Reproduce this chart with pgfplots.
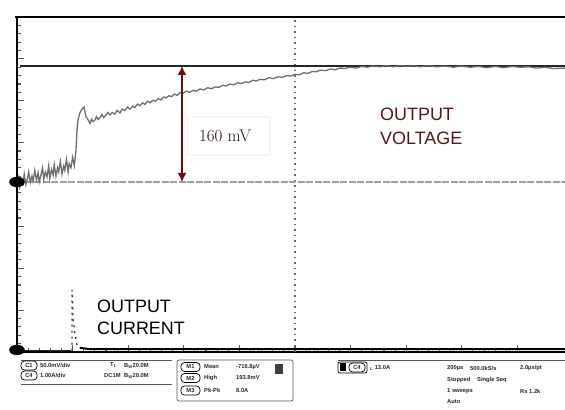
\documentclass[border=0pt]{standalone}
\usepackage{fontspec}
\usepackage{pgfplots}
\pgfplotsset{compat=1.18}
\usetikzlibrary{arrows.meta}
\newfontfamily\arial{Liberation Sans}
\definecolor{maroon}{RGB}{110,12,12}
\definecolor{vtxt}{RGB}{85,22,22}
\definecolor{mvtxt}{RGB}{40,18,18}
\definecolor{boxc}{RGB}{254,242,236}
\definecolor{trace}{RGB}{110,110,110}
\begin{document}
\begin{tikzpicture}
\path[use as bounding box] (0,0) rectangle (565bp,410bp);
\begin{axis}[at={(17bp,58bp)}, anchor=south west, scale only axis,
  width=548bp, height=335bp, xmin=0, xmax=9.856, ymin=-4, ymax=4,
  axis x line=bottom, axis y line=left,
  axis line style={line width=2.4bp, -, black},
  xtick={0,...,9}, ytick={-4,...,4}, minor x tick num=4, minor y tick num=4,
  xticklabels={}, yticklabels={}, tick align=inside,
  major tick length=7bp, minor tick length=4bp,
  tick style={gray!70!black, line width=1.1bp},
  clip mode=individual]
% centre graticule line
\draw[gray!80!black, line width=1.3bp, dash pattern=on 1.5bp off 4bp] (axis cs:5,-4) -- (axis cs:5,4);
% lower cursor / reference
\addplot[gray!75, line width=1.4bp, dash pattern=on 7bp off 1.5bp] coordinates {(0,0.06) (9.856,0.06)};
% upper cursor
\addplot[black!85, line width=1.6bp] coordinates {(0.05,2.83) (9.856,2.83)};
% output voltage trace
\addplot[trace, line width=1.3bp] coordinates {
(0,0.05) (0.03,0.18) (0.05,-0.05) (0.08,0.12) (0.11,0.02) (0.13,0.25) (0.16,0.0)
(0.19,0.15) (0.21,0.30) (0.24,0.05) (0.27,0.20) (0.29,0.08) (0.32,0.34) (0.35,0.10)
(0.38,0.28) (0.40,0.06) (0.43,0.22) (0.46,0.40) (0.48,0.12) (0.51,0.30) (0.54,0.18)
(0.57,0.45) (0.59,0.14) (0.62,0.36) (0.65,0.22) (0.67,0.48) (0.70,0.20) (0.73,0.40)
(0.75,0.30) (0.78,0.55) (0.81,0.25) (0.84,0.44) (0.86,0.34) (0.89,0.60) (0.92,0.30)
(0.94,0.50) (0.97,0.40) (1.0,0.65) (1.03,0.45) (1.06,0.80) (1.079,1.30) (1.097,1.54)
(1.133,1.72) (1.169,1.80) (1.205,1.85) (1.241,1.62) (1.277,1.55) (1.313,1.46)
(1.34,1.56) (1.37,1.50) (1.403,1.54) (1.43,1.62) (1.46,1.55) (1.493,1.60) (1.53,1.67)
(1.56,1.60) (1.60,1.66) (1.64,1.72) (1.673,1.66) (1.71,1.72) (1.76,1.68) (1.80,1.77)
(1.853,1.71) (1.89,1.80) (1.94,1.77) (1.99,1.85) (2.032,1.80) (2.08,1.87) (2.12,1.84)
(2.17,1.92) (2.212,1.88) (2.26,1.95) (2.30,1.91) (2.35,1.99) (2.392,1.95) (2.44,2.01)
(2.49,1.99) (2.54,2.05) (2.59,2.02) (2.64,2.09) (2.68,2.07) (2.73,2.12) (2.78,2.10)
(2.83,2.16) (2.88,2.13) (2.93,2.19) (2.986,2.18) (3.05,2.23) (3.10,2.20) (3.17,2.25)
(3.23,2.23) (3.291,2.28) (3.36,2.26) (3.43,2.31) (3.50,2.29) (3.56,2.33) (3.63,2.32)
(3.70,2.37) (3.76,2.35) (3.83,2.40) (3.90,2.38) (3.97,2.43) (4.04,2.41) (4.10,2.45)
(4.17,2.44) (4.24,2.49) (4.30,2.47) (4.371,2.51) (4.45,2.50) (4.53,2.55) (4.61,2.53)
(4.69,2.57) (4.77,2.56) (4.85,2.60) (4.92,2.59) (5.0,2.63) (5.08,2.62) (5.16,2.67)
(5.23,2.65) (5.31,2.70) (5.38,2.69) (5.45,2.73) (5.55,2.72) (5.64,2.76) (5.72,2.74)
(5.81,2.78) (5.90,2.77) (5.989,2.80) (6.10,2.78) (6.20,2.82) (6.30,2.80) (6.40,2.83)
(6.529,2.81) (6.65,2.84) (6.77,2.81) (6.89,2.84) (7.01,2.82) (7.13,2.84) (7.248,2.81)
(7.40,2.84) (7.55,2.81) (7.70,2.83) (7.85,2.80) (8.00,2.83) (8.147,2.80) (8.30,2.82)
(8.45,2.79) (8.60,2.82) (8.75,2.79) (8.90,2.82) (9.047,2.80) (9.20,2.81) (9.35,2.78)
(9.50,2.80) (9.65,2.77) (9.856,2.78)};
% output current trace
\addplot[black!85, line width=1.2bp] coordinates {(0,-3.97) (0.97,-3.97)};
\addplot[black!75, line width=1.3bp, dash pattern=on 2bp off 4bp] coordinates {
(0.99,-3.97) (0.99,-2.52) (1.0,-2.76) (1.01,-3.19) (1.03,-3.47) (1.08,-3.84) (1.13,-3.90)};
\addplot[black, line width=2bp] coordinates {(1.13,-3.90) (1.3,-3.93) (9.856,-3.93)};
% channel and trigger markers
\addplot[only marks, mark=*, mark size=5bp, mark options={xscale=1.5, black}] coordinates {(0,0.06) (0,-3.95)};
\addplot[only marks, mark=triangle*, mark size=3.5bp, mark options={rotate=180, black!80}] coordinates {(1.007,4.27)};
% 160 mV annotation
\draw[maroon, line width=1.6bp, {Latex[length=9bp,width=9bp]}-{Latex[length=9bp,width=9bp]}] (axis cs:2.968,2.83) -- (axis cs:2.968,0.06);
\node[draw=boxc, line width=1.5bp, minimum width=82bp, minimum height=38bp, inner sep=0] at (axis cs:3.813,1.158) {};
\node[anchor=base west, inner sep=0, text=mvtxt, font=\fontsize{17}{20}\selectfont] at (axis cs:3.273,1.015) {160 mV};
\node[anchor=base west, inner sep=0, text=vtxt, font=\arial\fontsize{18}{22}\selectfont] at (axis cs:6.529,1.54) {OUTPUT};
\node[anchor=base west, inner sep=0, text=vtxt, font=\arial\fontsize{18}{22}\selectfont] at (axis cs:6.529,0.967) {VOLTAGE};
\node[anchor=base west, inner sep=0, text=black, font=\arial\fontsize{18}{22}\selectfont] at (axis cs:1.439,-3.045) {OUTPUT};
\node[anchor=base west, inner sep=0, text=black, font=\arial\fontsize{18}{22}\selectfont] at (axis cs:1.439,-3.594) {CURRENT};
\end{axis}
% top border
\draw[black, line width=2.6bp] (15bp,393bp) -- (565bp,393bp);
% info panel
\begin{scope}[x=1bp, y=-1bp, shift={(0,-410)}, font=\arial\bfseries\fontsize{5.8}{6.5}\selectfont, every node/.style={inner sep=0, text=black!85}]
\draw[gray!70!black, line width=0.7bp] (21,360) -- (172,360);
\draw[gray!70!black, line width=0.7bp] (21,384) -- (172,384);
\draw[line width=0.7bp, rounded corners=3.5bp] (21,361) rectangle (37,370);
\draw[line width=0.7bp, rounded corners=3.5bp] (21,371) rectangle (37,380);
\node at (29,365.5) {C1}; \node at (29,375.5) {C4};
\node[anchor=west] at (40,365.5) {50.0mV/div};
\node[anchor=west] at (40,375.5) {1.00A/div};
\node[anchor=west] at (110,365.5) {T\textsubscript{1}};
\node[anchor=west] at (104,375.5) {DC1M};
\node[anchor=west] at (124,365.5) {B\textsubscript{W}20.0M};
\node[anchor=west] at (124,375.5) {B\textsubscript{W}20.0M};
\draw[gray!70!black, line width=0.7bp, rounded corners=2bp] (177,360) rectangle (293,401);
\draw[line width=0.7bp, rounded corners=3.5bp] (181,362.5) rectangle (200,371.5);
\draw[line width=0.7bp, rounded corners=3.5bp] (181,373.5) rectangle (200,382.5);
\draw[line width=0.7bp, rounded corners=3.5bp] (181,386) rectangle (200,395);
\node at (190.5,367) {M1}; \node at (190.5,378) {M2}; \node at (190.5,390.5) {M3};
\node[anchor=west] at (204,367) {Mean}; \node[anchor=west] at (204,378) {High}; \node[anchor=west] at (204,390.5) {Pk-Pk};
\node[anchor=west] at (236,367) {-716.8µV}; \node[anchor=west] at (236,378) {193.8mV}; \node[anchor=west] at (236,390.5) {8.0A};
\fill[black!75] (275,364) rectangle (283,374);
\draw[gray!70!black, line width=0.7bp] (338,360) -- (565,360);
\draw[line width=0.7bp, rounded corners=2bp] (338,362) rectangle (367,373);
\fill[black] (340,363.5) rectangle (346,371.5);
\draw[line width=0.7bp, rounded corners=3.5bp] (349,363) rectangle (365,372);
\node at (357,367.5) {C4};
\node[anchor=west] at (370,367.5) {\textsubscript{L} 13.0A};
\node[anchor=west] at (447,368) {200µs}; \node[anchor=west] at (470,368) {500.0kS/s}; \node[anchor=west] at (520,368) {2.0µs/pt};
\node[anchor=west] at (447,380) {Stopped}; \node[anchor=west] at (477,380) {Single Seq};
\node[anchor=west] at (447,391) {1 sweeps}; \node[anchor=west] at (520,391) {Rs 1.2k};
\node[anchor=west] at (447,402) {Auto};
\end{scope}
\end{tikzpicture}
\end{document}
